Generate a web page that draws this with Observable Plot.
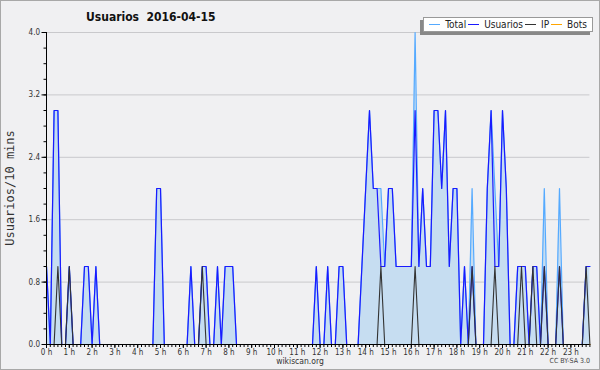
<!DOCTYPE html>
<html><head><meta charset="utf-8">
<script src="https://cdn.jsdelivr.net/npm/d3@7"></script>
<script src="https://cdn.jsdelivr.net/npm/@observablehq/plot@0.6"></script>
<style>
html,body{margin:0;padding:0;background:#f0f0f2;}
#wrap{position:relative;width:600px;height:370px;overflow:hidden;background:#f0f0f2;font-family:"DejaVu Sans Condensed","DejaVu Sans",sans-serif;font-stretch:condensed;color:#222;}
#chart{position:absolute;left:0;top:0;}
#chart svg text{font-family:"DejaVu Sans Condensed","DejaVu Sans",sans-serif;font-stretch:condensed;}
#border{position:absolute;left:0;top:0;width:598px;height:368px;border:1px solid #a8a8a8;pointer-events:none;}
#title{position:absolute;left:86px;top:10px;font-weight:bold;font-size:12px;line-height:15px;color:#111;white-space:pre;}
#ylab{position:absolute;left:10px;top:188px;transform:translate(-50%,-50%) rotate(-90deg);font-family:"DejaVu Sans Mono",monospace;font-size:12px;white-space:nowrap;color:#333;}
#legend{position:absolute;right:7px;top:17px;height:13px;background:#fff;border:1px solid #999;box-shadow:-3px 3px 0 #888;display:flex;align-items:center;padding:0 5px 0 3px;font-size:10px;line-height:13px;color:#222;}
#legend .sw{display:inline-block;width:11px;height:0;border-top:1px solid;margin:0 5px 0 2px;}
#site{position:absolute;left:300px;top:356px;transform:translateX(-50%);font-size:8.5px;color:#333;}
#cc{position:absolute;right:10px;top:357px;font-size:7px;color:#444;}
</style></head>
<body><div id="wrap"><div id="chart"></div>
<div id="title"></div><div id="ylab"></div><div id="legend"></div>
<div id="site"></div><div id="cc"></div><div id="border"></div></div>
<script>
const titleText = "Usuarios  2016-04-15";
const yLabel = "Usuarios/10 mins";
const seriesNames = ["Total", "Usuarios", "IP", "Bots"];
const seriesColors = ["#55aaff", "#1a1aff", "#333333", "#ffa500"];
const hourLabels = ["0 h","1 h","2 h","3 h","4 h","5 h","6 h","7 h","8 h","9 h","10 h","11 h",
  "12 h","13 h","14 h","15 h","16 h","17 h","18 h","19 h","20 h","21 h","22 h","23 h"];
const yTickValues = [0, 0.8, 1.6, 2.4, 3.2, 4.0];

// one value per 10-minute slot, six per hour
const total = [
  1,0,3,3,0,0, 1,0,0,0,1,1, 0,1,0,0,0,0, 0,0,0,0,0,0, 0,0,0,0,0,2, 2,0,0,0,0,0,
  0,0,1,0,0,1, 1,0,0,1,0,1, 1,1,0,0,0,0, 0,0,0,0,0,0, 0,0,0,0,0,0, 0,0,0,0,0,1,
  0,0,1,0,0,1, 1,0,0,0,0,1, 2,3,2,2,2,1, 2,2,1,1,1,1, 1,4,1,2,1,1, 3,3,2,3,1,2,
  2,0,1,0,2,0, 0,0,2,3,2,1, 3,2,0,0,1,1, 1,0,1,1,0,2, 0,0,0,2,0,0, 0,0,0,0,1,1];
const usuarios = [
  1,0,3,3,0,0, 1,0,0,0,1,1, 0,1,0,0,0,0, 0,0,0,0,0,0, 0,0,0,0,0,2, 2,0,0,0,0,0,
  0,0,1,0,0,1, 1,0,0,1,0,1, 1,1,0,0,0,0, 0,0,0,0,0,0, 0,0,0,0,0,0, 0,0,0,0,0,1,
  0,0,1,0,0,1, 1,0,0,0,0,1, 2,3,2,2,1,1, 2,2,1,1,1,1, 1,3,1,2,1,1, 3,3,2,3,1,2,
  2,0,1,0,1,0, 0,0,2,3,1,1, 3,2,0,0,1,1, 1,0,1,1,0,1, 0,0,0,1,0,0, 0,0,0,0,1,1];
const ip = [
  0,0,0,1,0,0, 1,0,0,0,0,0, 0,0,0,0,0,0, 0,0,0,0,0,0, 0,0,0,0,0,0, 0,0,0,0,0,0,
  0,0,0,0,0,1, 0,0,0,0,0,0, 0,0,0,0,0,0, 0,0,0,0,0,0, 0,0,0,0,0,0, 0,0,0,0,0,0,
  0,0,0,0,0,0, 0,0,0,0,0,0, 0,0,0,0,1,0, 0,0,0,0,0,0, 0,1,0,0,0,0, 0,0,0,0,0,0,
  0,0,0,0,1,0, 0,0,0,0,1,0, 0,0,0,0,0,1, 0,0,1,0,0,1, 0,0,0,1,0,0, 0,0,0,0,1,0];
const bots = [
  0,0,0,0,0,0, 0,0,0,0,0,0, 0,0,0,0,0,0, 0,0,0,0,0,0, 0,0,0,0,0,0, 0,0,0,0,0,0,
  0,0,0,0,0,0, 0,0,0,0,0,0, 0,0,0,0,0,0, 0,0,0,0,0,0, 0,0,0,0,0,0, 0,0,0,0,0,0,
  0,0,0,0,0,0, 0,0,0,0,0,0, 0,0,0,0,0,0, 0,0,0,0,0,0, 0,0,0,0,0,0, 0,0,0,0,0,0,
  0,0,0,0,0,0, 0,0,0,0,0,0, 0,0,0,0,0,0, 0,0,0,0,0,0, 0,0,0,0,0,0, 0,0,0,0,0,0];

const data = total.map((t, i) => ({slot: i, total: t, usuarios: usuarios[i], ip: ip[i], bots: bots[i]}));
const slotTicks = data.map(d => d.slot);
const hourTicks = hourLabels.map((_, h) => h * 6);
const minorY = d3.range(0, 21).map(k => k / 5);

const chart = Plot.plot({
  width: 600, height: 370,
  marginLeft: 46, marginRight: 10.6, marginTop: 32, marginBottom: 26,
  style: {background: "transparent", overflow: "visible"},
  x: {domain: [0, 143], label: null},
  y: {domain: [0, 4], label: null},
  marks: [
    Plot.ruleY(yTickValues, {stroke: "#c9c9cc", strokeWidth: 1}),
    Plot.areaY(data, {x: "slot", y: "total", fill: "#c6ddf1"}),
    Plot.lineY(data, {x: "slot", y: "total", stroke: seriesColors[0], strokeWidth: 1.2}),
    Plot.lineY(data, {x: "slot", y: "usuarios", stroke: seriesColors[1], strokeWidth: 1.2}),
    Plot.lineY(data, {x: "slot", y: "ip", stroke: seriesColors[2], strokeWidth: 1.1}),
    Plot.lineY(data, {x: "slot", y: "bots", stroke: seriesColors[3], strokeWidth: 1.1}),
    Plot.ruleX([0], {stroke: "#000", strokeWidth: 1}),
    Plot.ruleY([0], {stroke: "#000", strokeWidth: 1.2}),
    Plot.axisX(slotTicks, {anchor: "bottom", tickSize: 3, tickFormat: () => "", stroke: "#000", label: null}),
    Plot.axisX(hourTicks, {anchor: "bottom", tickSize: 4, tickPadding: 0.5, tickFormat: d => hourLabels[d / 6], fontSize: 8, fill: "#333", stroke: "#000", label: null}),
    Plot.axisY(minorY, {anchor: "left", tickSize: 2.5, tickFormat: () => "", stroke: "#000", label: null}),
    Plot.axisY(yTickValues, {anchor: "left", tickSize: 4.5, tickPadding: 2, tickFormat: d3.format(".1f"), fontSize: 8, fill: "#333", stroke: "#000", label: null})
  ]
});
document.getElementById("chart").appendChild(chart);
document.getElementById("title").textContent = titleText;
document.getElementById("ylab").textContent = yLabel;
document.getElementById("site").textContent = "wikiscan.org";
document.getElementById("cc").textContent = "CC BY-SA 3.0";
const legend = document.getElementById("legend");
seriesNames.forEach((name, k) => {
  const sw = document.createElement("span");
  sw.className = "sw";
  sw.style.borderTopColor = seriesColors[k];
  const t = document.createElement("span");
  t.textContent = name;
  legend.appendChild(sw);
  legend.appendChild(t);
});
</script></body></html>
